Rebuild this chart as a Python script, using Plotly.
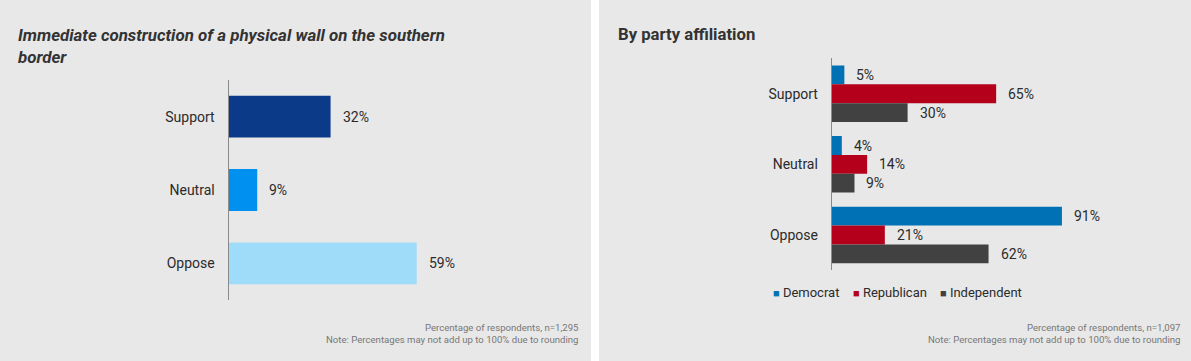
import plotly.graph_objects as go

W, H = 1191, 361

# ---- data ----
categories = ["Support", "Neutral", "Oppose"]
overall_pct = [32, 9, 59]
overall_colors = ["#0b3a89", "#0091f0", "#9fdcf9"]

parties = ["Democrat", "Republican", "Independent"]
democrat_pct = [5, 4, 91]
republican_pct = [65, 14, 21]
independent_pct = [30, 9, 62]
party_colors = ["#0071b4", "#b5001b", "#414141"]

left_title_lines = ["Immediate construction of a physical wall on the southern", "border"]
right_title = "By party affiliation"
left_note = "Percentage of respondents, n=1,295<br>Note: Percentages may not add up to 100% due to rounding"
right_note = "Percentage of respondents, n=1,097<br>Note: Percentages may not add up to 100% due to rounding"

FONT = "Roboto"
TXT = "#2b2b2b"
PANEL = "#e8e8e8"


def px_x(p):
    return p / W


def px_y(p):
    return 1 - p / H


fig = go.Figure()

# left chart
fig.add_trace(go.Bar(
    y=categories, x=overall_pct, orientation="h",
    marker=dict(color=overall_colors, line_width=0),
    width=0.57, xaxis="x", yaxis="y", showlegend=False, hoverinfo="skip",
))

# right chart (grouped manually)
party_series = [democrat_pct, republican_pct, independent_pct]
group = 0.8
bw = group / len(parties)
for k, (name, vals, col) in enumerate(zip(parties, party_series, party_colors)):
    fig.add_trace(go.Bar(
        y=categories, x=vals, orientation="h", name=name,
        marker=dict(color=col, line_width=0),
        width=bw, offset=-group / 2 + k * bw,
        xaxis="x2", yaxis="y2", showlegend=False, hoverinfo="skip",
    ))

annotations = []
# value labels left
for i, v in enumerate(overall_pct):
    annotations.append(dict(
        x=v, y=i, xref="x", yref="y", text=f"{v}%", showarrow=False,
        xanchor="left", yanchor="middle", xshift=10,
        font=dict(family=FONT, size=14, color=TXT),
    ))
# value labels right
for k, vals in enumerate(party_series):
    for i, v in enumerate(vals):
        annotations.append(dict(
            x=v, y=i - group / 2 + k * bw + bw / 2, xref="x2", yref="y2",
            text=f"{v}%", showarrow=False, xanchor="left", yanchor="middle", xshift=10,
            font=dict(family=FONT, size=14, color=TXT),
        ))

# titles
title_font_it = dict(family=FONT, size=16.9, color="#333333", weight="bold", style="italic")
title_font = dict(family=FONT, size=16.7, color="#333333", weight="bold")
annotations.append(dict(x=px_x(16), y=px_y(35), xref="paper", yref="paper",
                        text=left_title_lines[0], showarrow=False, xanchor="left",
                        yanchor="middle", font=title_font_it))
annotations.append(dict(x=px_x(16), y=px_y(57), xref="paper", yref="paper",
                        text=left_title_lines[1], showarrow=False, xanchor="left",
                        yanchor="middle", font=title_font_it))
annotations.append(dict(x=px_x(616), y=px_y(34.5), xref="paper", yref="paper",
                        text=right_title, showarrow=False, xanchor="left",
                        yanchor="middle", font=title_font))

# notes
note_font = dict(family=FONT, size=9.6, color="#777777")
annotations.append(dict(x=px_x(581), y=px_y(333.5), xref="paper", yref="paper",
                        text=left_note, showarrow=False, xanchor="right", align="right",
                        yanchor="middle", font=note_font))
annotations.append(dict(x=px_x(1182), y=px_y(333.5), xref="paper", yref="paper",
                        text=right_note, showarrow=False, xanchor="right", align="right",
                        yanchor="middle", font=note_font))

# manual legend
legend_x = [771, 851, 938]
for name, col, lx in zip(parties, party_colors, legend_x):
    annotations.append(dict(
        x=px_x(lx), y=px_y(292), xref="paper", yref="paper",
        text=f'<span style="color:{col};font-size:11px">■</span> {name}',
        showarrow=False, xanchor="left", yanchor="middle",
        font=dict(family=FONT, size=13, color=TXT),
    ))

shapes = [
    dict(type="rect", xref="paper", yref="paper", x0=0, x1=px_x(591), y0=0, y1=1,
         fillcolor=PANEL, line_width=0, layer="below"),
    dict(type="rect", xref="paper", yref="paper", x0=px_x(599), x1=1, y0=0, y1=1,
         fillcolor=PANEL, line_width=0, layer="below"),
]

yaxis_common = dict(
    type="category", categoryorder="array", categoryarray=categories,
    range=[2.5, -0.5], autorange=False, showgrid=False, zeroline=False,
    showline=True, linecolor="#8a8a8a", linewidth=1, ticks="",
    ticklabelstandoff=10, tickfont=dict(family=FONT, size=14, color=TXT),
)
xaxis_common = dict(range=[0, 100], visible=False, showgrid=False, zeroline=False)

fig.update_layout(
    width=W, height=H, autosize=False,
    margin=dict(l=0, r=0, t=0, b=0),
    paper_bgcolor="white", plot_bgcolor="rgba(0,0,0,0)",
    barmode="overlay", showlegend=False,
    font=dict(family=FONT, color=TXT),
    xaxis=dict(domain=[px_x(228.5), px_x(228.5 + 319)], anchor="y", **xaxis_common),
    yaxis=dict(domain=[px_y(300), px_y(80)], anchor="x", **yaxis_common),
    xaxis2=dict(domain=[px_x(831.7), px_x(831.7 + 253)], anchor="y2", **xaxis_common),
    yaxis2=dict(domain=[px_y(270.3), px_y(58.4)], anchor="x2", **yaxis_common),
    annotations=annotations,
    shapes=shapes,
)

fig.write_html(
    "out.html",
    config={"displayModeBar": False},
    post_script="document.body.style.margin='0';document.body.style.padding='0';",
)
